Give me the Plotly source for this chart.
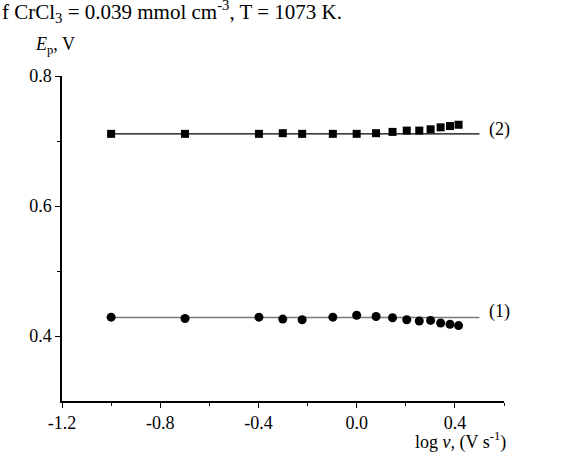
import plotly.graph_objects as go

# log v values (V s^-1)
log_v = [-1.0, -0.699, -0.398, -0.301, -0.222, -0.097, 0.0, 0.079, 0.146,
         0.204, 0.255, 0.301, 0.342, 0.380, 0.415]
# series (1) circles, Ep in V
ep_1 = [0.429, 0.427, 0.429, 0.426, 0.425, 0.429, 0.432, 0.430, 0.428,
        0.425, 0.423, 0.424, 0.420, 0.418, 0.416]
# series (2) squares, Ep in V
ep_2 = [0.711, 0.711, 0.711, 0.712, 0.711, 0.711, 0.711, 0.712, 0.714,
        0.716, 0.716, 0.718, 0.721, 0.723, 0.725]
# horizontal reference lines
fit_x = [-1.0, 0.5]
fit_1 = 0.4285
fit_2 = 0.711

x_tickvals = [-1.2, -0.8, -0.4, 0.0, 0.4]
x_ticktext = ["-1.2", "-0.8", "-0.4", "0.0", "0.4"]
y_tickvals = [0.4, 0.6, 0.8]
y_ticktext = ["0.4", "0.6", "0.8"]

FONT = "Liberation Serif, Times New Roman, serif"

fig = go.Figure()
fig.add_trace(go.Scatter(x=fit_x, y=[fit_1, fit_1], mode="lines",
                         line=dict(color="#7a7a7a", width=1.6), hoverinfo="skip"))
fig.add_trace(go.Scatter(x=fit_x, y=[fit_2, fit_2], mode="lines",
                         line=dict(color="black", width=1.2), hoverinfo="skip"))
fig.add_trace(go.Scatter(x=log_v, y=ep_1, mode="markers",
                         marker=dict(symbol="circle", size=9, color="black")))
fig.add_trace(go.Scatter(x=log_v, y=ep_2, mode="markers",
                         marker=dict(symbol="square", size=8, color="black")))

fig.update_layout(
    width=580, height=460,
    margin=dict(l=62, r=76, t=76, b=59),
    paper_bgcolor="white", plot_bgcolor="white",
    showlegend=False,
    font=dict(family=FONT, size=18, color="black"),
    xaxis=dict(range=[-1.2, 0.6], showgrid=False, zeroline=False,
               showline=True, linecolor="black", linewidth=1.5,
               ticks="outside", ticklen=5, tickwidth=1.2, tickcolor="black",
               tickvals=x_tickvals, ticktext=x_ticktext,
               minor=dict(tickvals=[-1.0, -0.6, -0.2, 0.2, 0.6], ticks="outside",
                          ticklen=3, tickwidth=1.2, tickcolor="black"),
               tickfont=dict(family=FONT, size=18)),
    yaxis=dict(range=[0.3, 0.8], showgrid=False, zeroline=False,
               showline=True, linecolor="black", linewidth=1.5,
               ticks="outside", ticklen=5, tickwidth=1.2, tickcolor="black",
               tickvals=y_tickvals, ticktext=y_ticktext,
               minor=dict(tickvals=[0.5, 0.7], ticks="outside",
                          ticklen=3, tickwidth=1.2, tickcolor="black"),
               tickfont=dict(family=FONT, size=18)),
)

fig.add_annotation(text="f CrCl<sub>3</sub> = 0.039 mmol cm<sup>-3</sup>, T = 1073 K.",
                   xref="paper", yref="paper", x=-0.14, y=1.2,
                   xanchor="left", yanchor="middle", showarrow=False,
                   font=dict(family=FONT, size=21))
fig.add_annotation(text="<i>E</i><sub>p</sub>, V",
                   xref="paper", yref="paper", x=-0.066, y=1.095,
                   xanchor="left", yanchor="middle", showarrow=False,
                   font=dict(family=FONT, size=18))
fig.add_annotation(text="log <i>v</i>, (V s<sup>-1</sup>)",
                   xref="paper", yref="paper", x=0.794, y=-0.123,
                   xanchor="left", yanchor="middle", showarrow=False,
                   font=dict(family=FONT, size=18))
fig.add_annotation(text="(2)", x=0.53, y=0.717, xanchor="left", yanchor="middle",
                   showarrow=False, font=dict(family=FONT, size=18))
fig.add_annotation(text="(1)", x=0.53, y=0.437, xanchor="left", yanchor="middle",
                   showarrow=False, font=dict(family=FONT, size=18))

fig.write_html("out.html")
